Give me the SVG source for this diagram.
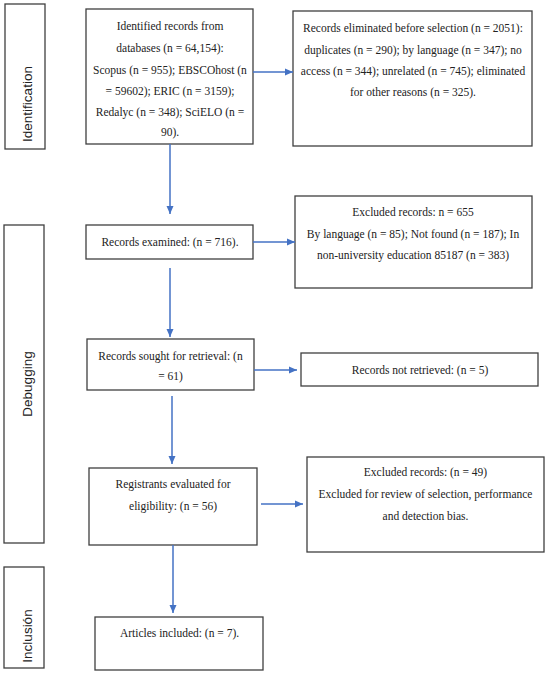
<svg xmlns="http://www.w3.org/2000/svg" width="550" height="675" viewBox="0 0 550 675">
<style>
.box{fill:#fff;stroke:#3f3f3f;stroke-width:1.3}
.t{font-family:"Liberation Serif","Times New Roman",serif;font-size:11.5px;fill:#222;text-anchor:middle}
.lab{font-family:"Liberation Sans",Arial,sans-serif;font-size:13.5px;fill:#222;text-anchor:middle}
.c{stroke:#4472c4;stroke-width:1.5;fill:none;marker-end:url(#ah)}
</style>
<defs>
<marker id="ah" markerUnits="userSpaceOnUse" markerWidth="10" markerHeight="10" viewBox="0 0 10 10" refX="9" refY="5" orient="auto">
<path d="M1,1.5 L9,5 L1,8.5 Z" fill="#4472c4"/>
</marker>
</defs>
<rect width="550" height="675" fill="#fff"/>
<g id="phase-identification">
<rect class="box" x="5" y="4" width="40" height="145"/>
<text class="lab" transform="translate(32,104) rotate(-90)">Identification</text>
</g>
<g id="phase-debugging">
<rect class="box" x="4" y="225" width="40" height="318"/>
<text class="lab" transform="translate(32,384) rotate(-90)">Debugging</text>
</g>
<g id="phase-inclusion">
<rect class="box" x="4" y="567" width="40" height="101"/>
<text class="lab" transform="translate(32,636) rotate(-90)">Inclusión</text>
</g>
<g id="identified">
<rect class="box" x="86" y="9" width="167" height="135"/>
<text class="t" x="170" y="30">Identified records from</text>
<text class="t" x="170" y="52">databases (n = 64,154):</text>
<text class="t" x="170" y="73.5">Scopus (n = 955); EBSCOhost (n</text>
<text class="t" x="170" y="94.5">= 59602); ERIC (n = 3159);</text>
<text class="t" x="170" y="115.5">Redalyc (n = 348); SciELO (n =</text>
<text class="t" x="170" y="136">90).</text>
</g>
<g id="eliminated">
<rect class="box" x="293" y="11" width="239" height="135"/>
<text class="t" x="413" y="32">Records eliminated before selection (n = 2051):</text>
<text class="t" x="413" y="53.5">duplicates (n = 290); by language (n = 347); no</text>
<text class="t" x="413" y="75">access (n = 344); unrelated (n = 745); eliminated</text>
<text class="t" x="413" y="95.5">for other reasons (n = 325).</text>
</g>
<g id="examined">
<rect class="box" x="86" y="225" width="167" height="34"/>
<text class="t" x="170" y="245.5">Records examined: (n = 716).</text>
</g>
<g id="excluded1">
<rect class="box" x="295" y="196" width="237" height="92"/>
<text class="t" x="413" y="215.5">Excluded records: n = 655</text>
<text class="t" x="413" y="237.5">By language (n = 85); Not found (n = 187); In</text>
<text class="t" x="413" y="258.5">non-university education 85187 (n = 383)</text>
</g>
<g id="sought">
<rect class="box" x="87" y="339" width="167" height="51"/>
<text class="t" x="170.5" y="360">Records sought for retrieval: (n</text>
<text class="t" x="170.5" y="380">= 61)</text>
</g>
<g id="not-retrieved">
<rect class="box" x="301" y="353" width="237" height="33"/>
<text class="t" x="420" y="373.5">Records not retrieved: (n = 5)</text>
</g>
<g id="registrants">
<rect class="box" x="89" y="468" width="168" height="77"/>
<text class="t" x="173" y="487.5">Registrants evaluated for</text>
<text class="t" x="173" y="510">eligibility: (n = 56)</text>
</g>
<g id="excluded2">
<rect class="box" x="307" y="457" width="237" height="95"/>
<text class="t" x="425.5" y="476">Excluded records: (n = 49)</text>
<text class="t" x="425.5" y="498">Excluded for review of selection, performance</text>
<text class="t" x="425.5" y="519.5">and detection bias.</text>
</g>
<g id="included">
<rect class="box" x="95" y="617" width="168" height="53"/>
<text class="t" x="179.5" y="637">Articles included: (n = 7).</text>
</g>
<g id="connectors">
<line class="c" x1="170" y1="144" x2="170" y2="214"/>
<line class="c" x1="253" y1="72" x2="293" y2="72"/>
<line class="c" x1="253" y1="242" x2="295" y2="242"/>
<line class="c" x1="170" y1="268" x2="170" y2="337"/>
<line class="c" x1="254" y1="370" x2="297" y2="370"/>
<line class="c" x1="172" y1="396" x2="172" y2="464"/>
<line class="c" x1="261" y1="504" x2="303" y2="504"/>
<line class="c" x1="173" y1="545" x2="173" y2="613"/>
</g>
</svg>
